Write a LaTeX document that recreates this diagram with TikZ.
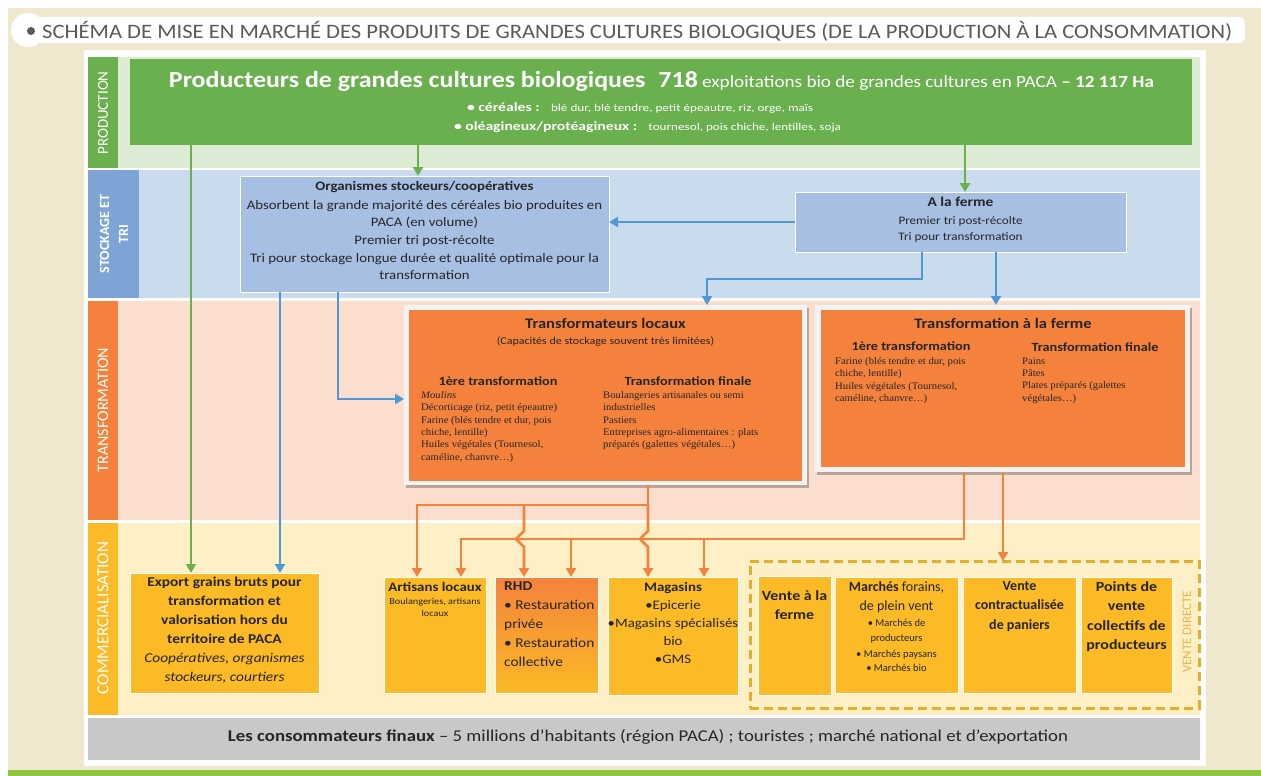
\documentclass[tikz,border=0pt]{standalone}
\usepackage{graphicx}
\usepackage{fontspec}
\setmainfont{Carlito}[FakeStretch=1.14]
\newfontfamily\plainfam{Carlito}
\newfontfamily\seriffam{Liberation Serif}[FakeStretch=1.07]
\usetikzlibrary{arrows.meta}
\definecolor{beige}{HTML}{EFE7CE}
\definecolor{barg}{HTML}{8DC540}
\definecolor{ttl}{HTML}{5A5A5A}
\definecolor{cgreen}{HTML}{6AB04E}
\definecolor{lgreen}{HTML}{DBEBD4}
\definecolor{cbluel}{HTML}{7EA4D6}
\definecolor{lblue}{HTML}{CBDBEE}
\definecolor{cbox}{HTML}{A7BFE3}
\definecolor{cblue}{HTML}{4F97D6}
\definecolor{corange}{HTML}{F4823C}
\definecolor{lpeach}{HTML}{FBDECD}
\definecolor{cgold}{HTML}{FBBA26}
\definecolor{lyellow}{HTML}{FEF0C6}
\definecolor{cdash}{HTML}{E4AE2D}
\definecolor{cgray}{HTML}{C8C8CA}
\definecolor{dark}{HTML}{262626}
\definecolor{framec}{HTML}{F3F3F3}
\definecolor{shad}{HTML}{B9A597}
\definecolor{vdtext}{HTML}{EAB544}
\newcommand{\fsz}[2]{\fontsize{#1}{#2}\selectfont}
\tikzset{
  boxn/.style={inner sep=0pt, outer sep=0pt, anchor=north west},
  lanelab/.style={rotate=90, text=white, inner sep=0pt},
  txt/.style={inner sep=0pt, text=dark},
  garr/.style={draw=cgreen, line width=2.6pt, -{Triangle[length=9pt,width=10pt]}},
  barr/.style={draw=cblue, line width=2.8pt, -{Triangle[length=9pt,width=10pt]}},
  oarr/.style={draw=corange, line width=2.8pt, -{Triangle[length=9pt,width=10pt]}},
  combox/.style={boxn, fill=cgold, draw=white, line width=1pt},
}
\begin{document}
\begin{tikzpicture}[x=1pt,y=-1pt]
\useasboundingbox (0,0) rectangle (1261,776);
\fill[white] (0,0) rectangle (1261,776);
\fill[beige] (8,8) rectangle (1261,770);
\fill[barg] (8,770) rectangle (1261,776);
% title bar
\fill[white, rounded corners=6pt] (22,17) rectangle (1245,43);
\fill[white] (28,30) circle[radius=17pt];
\fill[ttl] (31,31) circle[radius=4pt];
\node[anchor=west, text=ttl, font=\plainfam\fsz{20.5}{24}, inner sep=0pt] (title) at (42,31) {\resizebox{1190pt}{\height}{SCHÉMA DE MISE EN MARCHÉ DES PRODUITS DE GRANDES CULTURES BIOLOGIQUES (DE LA PRODUCTION À LA CONSOMMATION)}};
% panel
\fill[white] (84,50) rectangle (1206,766);
% lanes
\node[boxn, fill=cgreen, minimum width=30pt, minimum height=111pt] (labP) at (88,57) {};
\node[boxn, fill=lgreen, minimum width=1082pt, minimum height=111pt] (bandP) at (118,57) {};
\node[boxn, fill=cbluel, minimum width=51pt, minimum height=128pt] (labS) at (88,170) {};
\node[boxn, fill=lblue, minimum width=1061pt, minimum height=128pt] (bandS) at (139,170) {};
\node[boxn, fill=corange, minimum width=30pt, minimum height=219pt] (labT) at (88,301) {};
\node[boxn, fill=lpeach, minimum width=1082pt, minimum height=219pt] (bandT) at (118,301) {};
\node[boxn, fill=cgold, minimum width=30pt, minimum height=192pt] (labC) at (88,523) {};
\node[boxn, fill=lyellow, minimum width=1082pt, minimum height=192pt] (bandC) at (118,523) {};
\node[boxn, fill=cgray, minimum width=1112pt, minimum height=42pt] (cons) at (88,718) {};
\node[lanelab, font=\plainfam\fsz{15}{17}] (tP) at (103,113) {PRODUCTION};
\node[lanelab, align=center, font=\plainfam\fsz{14}{19}\bfseries] (tS) at (114,234) {STOCKAGE ET\\TRI};
\node[lanelab, font=\plainfam\fsz{16}{18}] (tT) at (103,410) {TRANSFORMATION};
\node[lanelab, font=\plainfam\fsz{17}{19}] (tC) at (103,618) {COMMERCIALISATION};
% production box
\node[boxn, fill=cgreen, minimum width=1062pt, minimum height=86pt] (prod) at (130,59) {};
\node[anchor=base, inner sep=0pt, text=white] (ptitle) at (661.5,88) {\resizebox{985pt}{\height}{{\plainfam\fsz{23}{26}\bfseries Producteurs de grandes cultures biologiques\enspace 718}{\plainfam\fsz{17}{19}\ exploitations bio de grandes cultures en PACA \textbf{– 12 117 Ha}}}};
\node[anchor=base, inner sep=0pt, text=white] (pcer) at (640,111) {\resizebox{346pt}{\height}{{\plainfam\fsz{12.5}{15}\bfseries • céréales :}\hspace{9pt}{\plainfam\fsz{10.5}{12}blé dur, blé tendre, petit épeautre, riz, orge, maïs}}};
\node[anchor=base, inner sep=0pt, text=white] (pole) at (647.5,130) {\resizebox{387pt}{\height}{{\plainfam\fsz{12.5}{15}\bfseries • oléagineux/protéagineux :}\hspace{9pt}{\plainfam\fsz{10.5}{12}tournesol, pois chiche, lentilles, soja}}};
% stockage
\node[boxn, fill=cbox, draw=white, line width=0.8pt, minimum width=369pt, minimum height=116pt] (org) at (240,176) {};
\node[txt, anchor=north, align=center, font=\fsz{13}{17.7}] (orgt) at (424.5,181) {{\bfseries Organismes stockeurs/coopératives}\\[1pt]Absorbent la grande majorité des céréales bio produites en\\PACA (en volume)\\Premier tri post-récolte\\Tri pour stockage longue durée et qualité optimale pour la\\transformation};
\node[boxn, fill=cbox, draw=white, line width=0.8pt, minimum width=331pt, minimum height=60pt] (ferme) at (795,192) {};
\node[txt, anchor=north, align=center, font=\fsz{11.5}{16.5}] (fermet) at (960.5,197) {{\fsz{13.5}{16}\bfseries A la ferme}\\[1pt]Premier tri post-récolte\\Tri pour transformation};
% transformation boxes
\fill[shad] (406,308) rectangle (809,488);
\node[boxn, fill=framec, minimum width=403pt, minimum height=180pt] (trl) at (404,305) {};
\node[boxn, fill=corange, minimum width=393pt, minimum height=171pt] (trli) at (409,310) {};
\node[txt, anchor=north, font=\fsz{14.5}{17}\bfseries] (trlt) at (605.5,318) {Transformateurs locaux};
\node[txt, anchor=north, font=\fsz{10.5}{13}] (trls) at (605.5,337) {(Capacités de stockage souvent très limitées)};
\node[txt, anchor=north, font=\fsz{12.5}{15}\bfseries] (trl1) at (498,377) {1ère transformation};
\node[txt, anchor=north, font=\fsz{12.5}{15}\bfseries] (trl2) at (688,377) {Transformation finale};
\node[txt, anchor=north west, align=left, font=\seriffam\fsz{10}{12.3}] (trlL) at (421,391.5) {\textit{Moulins}\\Décorticage (riz, petit épeautre)\\Farine (blés tendre et dur, pois\\chiche, lentille)\\Huiles végétales (Tournesol,\\caméline, chanvre…)};
\node[txt, anchor=north west, align=left, font=\seriffam\fsz{10}{12.3}] (trlR) at (603,391.5) {Boulangeries artisanales ou semi\\industrielles\\Pastiers\\Entreprises agro-alimentaires : plats\\préparés (galettes végétales…)};
\fill[shad] (817,308) rectangle (1192,475);
\node[boxn, fill=framec, minimum width=375pt, minimum height=167pt] (tfe) at (815,305) {};
\node[boxn, fill=corange, minimum width=364pt, minimum height=157pt] (tfei) at (821,310) {};
\node[txt, anchor=north, font=\fsz{14.5}{17}\bfseries] (tfet) at (1003,318) {Transformation à la ferme};
\node[txt, anchor=north, font=\fsz{12.5}{15}\bfseries] (tfe1) at (911,342) {1ère transformation};
\node[txt, anchor=north, font=\fsz{12.5}{15}\bfseries] (tfe2) at (1095,343) {Transformation finale};
\node[txt, anchor=north west, align=left, font=\seriffam\fsz{10}{12.3}] (tfeL) at (835,357.5) {Farine (blés tendre et dur, pois\\chiche, lentille)\\Huiles végétales (Tournesol,\\caméline, chanvre…)};
\node[txt, anchor=north west, align=left, font=\seriffam\fsz{10}{12.3}] (tfeR) at (1022,357.5) {Pains\\Pâtes\\Plates préparés (galettes\\végétales…)};
% commercialisation
\node[combox, minimum width=189pt, minimum height=120pt] (exp) at (130,573) {};
\node[txt, anchor=north, align=center, font=\fsz{13.5}{19}] (expt) at (224.5,577) {\textbf{Export grains bruts pour}\\\textbf{transformation et}\\\textbf{valorisation hors du}\\\textbf{territoire de PACA}\\\textit{Coopératives, organismes}\\\textit{stockeurs, courtiers}};
\node[combox, minimum width=102pt, minimum height=116pt] (art) at (384,577) {};
\node[txt, anchor=north, align=center, font=\fsz{9}{12}] (artt) at (435,582) {{\fsz{13}{15}\bfseries Artisans locaux}\\[1pt]Boulangeries, artisans\\locaux};
\node[boxn, top color=corange, bottom color=cgold, draw=white, line width=1pt, minimum width=103pt, minimum height=116pt] (rhd) at (495,577) {};
\node[txt, anchor=north west, align=left, font=\fsz{13.5}{19}] (rhdt) at (504,582) {\textbf{RHD}\\• Restauration\\privée\\• Restauration\\collective};
\node[combox, minimum width=130pt, minimum height=118pt] (mag) at (608,577) {};
\node[txt, anchor=north, align=center, font=\fsz{13}{18}] (magt) at (673,582) {\textbf{Magasins}\\•Epicerie\\•Magasins spécialisés\\bio\\•GMS};
\node[boxn, draw=cdash, line width=3pt, dash pattern=on 9pt off 5pt, minimum width=449pt, minimum height=147pt] (vdbox) at (750,561) {};
\node[combox, minimum width=73pt, minimum height=119pt] (vaf) at (758,576) {};
\node[txt, anchor=north, align=center, font=\fsz{14}{19}\bfseries] (vaft) at (794.5,590.5) {Vente à la\\ferme};
\node[combox, minimum width=123pt, minimum height=116pt] (mar) at (835,577) {};
\node[txt, anchor=north, align=center, font=\plainfam\fsz{10.5}{14.5}] (mart) at (896.5,581) {{\fsz{14}{17}\textbf{Marchés} forains,}\\[4.5pt]{\fsz{14}{17}de plein vent}\\[2pt]• Marchés de\\producteurs\\[1.5pt]• Marchés paysans\\• Marchés bio};
\node[combox, minimum width=113pt, minimum height=116pt] (vco) at (963,577) {};
\node[txt, anchor=north, align=center, font=\plainfam\fsz{14}{19.5}\bfseries] (vcot) at (1019.5,581) {Vente\\contractualisée\\de paniers};
\node[combox, minimum width=91pt, minimum height=116pt] (pdv) at (1081,577) {};
\node[txt, anchor=north, align=center, font=\fsz{14}{19.5}\bfseries] (pdvt) at (1126.5,581) {Points de\\vente\\collectifs de\\producteurs};
\node[lanelab, text=vdtext, font=\plainfam\fsz{13}{15}] (vdt) at (1187,632) {VENTE DIRECTE};
% consumers
\node[txt] (const) at (648,737) {\resizebox{840pt}{\height}{\plainfam\fsz{16.5}{19}\textbf{Les consommateurs finaux} – 5 millions d’habitants (région PACA) ; touristes ; marché national et d’exportation}};
% connector coordinates
\coordinate (cg1) at (191,0); \coordinate (cg2) at (418,0); \coordinate (cg3) at (965,0);
\coordinate (cb1) at (280,0); \coordinate (cb2) at (338,0); \coordinate (cb3) at (922,0);
\coordinate (cb4) at (996,0); \coordinate (cb5) at (707,0);
\coordinate (yb) at (0,399); \coordinate (yf) at (0,279);
\coordinate (co1) at (648,0); \coordinate (co2) at (417,0); \coordinate (co3) at (524,0);
\coordinate (co4) at (964,0); \coordinate (co5) at (461,0); \coordinate (co6) at (571,0);
\coordinate (co7) at (704,0); \coordinate (co8) at (1003,0);
\coordinate (ya) at (0,505); \coordinate (yk) at (0,531); \coordinate (yh) at (0,539);
% green
\draw[garr] (cg1 |- prod.south) -- (cg1 |- exp.north);
\draw[garr] (cg2 |- prod.south) -- (cg2 |- org.north);
\draw[garr] (cg3 |- prod.south) -- (cg3 |- ferme.north);
% blue
\draw[barr] (ferme.west) -- (ferme.west -| org.east);
\draw[barr] (cb1 |- org.south) -- (cb1 |- exp.north);
\draw[barr] (cb2 |- org.south) |- (trl.west |- yb);
\draw[barr] (cb3 |- ferme.south) -- (cb3 |- yf) -| (cb5 |- trl.north);
\draw[barr] (cb4 |- ferme.south) -- (cb4 |- tfe.north);
% orange
\draw[oarr] (co1 |- trl.south) -- (co1 |- ya) -| (co2 |- art.north);
\draw[oarr] (co3 |- ya) -- (co3 |- yk) -- ++(-8,8) -- ++(8,8) -- (co3 |- rhd.north);
\draw[oarr] (co1 |- ya) -- (co1 |- yk) -- ++(-8,8) -- ++(8,8) -- (co1 |- mag.north);
\draw[oarr] (co4 |- tfe.south) -- (co4 |- yh) -| (co5 |- art.north);
\draw[oarr] (co6 |- yh) -- (co6 |- rhd.north);
\draw[oarr] (co7 |- yh) -- (co7 |- mag.north);
\draw[oarr] (co8 |- tfe.south) -- (co8 |- vdbox.north);
\end{tikzpicture}
\end{document}
